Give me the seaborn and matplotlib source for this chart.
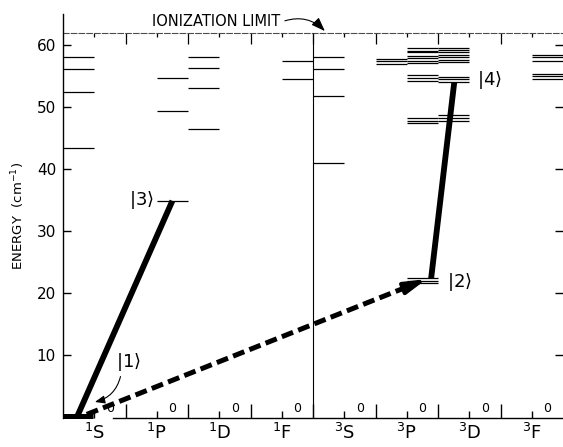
import matplotlib
matplotlib.use("Agg")
import matplotlib.pyplot as plt
import seaborn as sns
import numpy as np
import pandas as pd

# ---------------- data (energies in 10^3 cm^-1) ----------------
term_labels = ['$^{1}$S', '$^{1}$P', '$^{1}$D', '$^{1}$F',
               '$^{3}$S', '$^{3}$P', '$^{3}$D', '$^{3}$F']
yticks = [10, 20, 30, 40, 50, 60]
ionization_limit = 62.0

lv_1S = [43.4, 52.5, 56.1, 58.0]
lv_1P = [49.4, 54.7]
lv_1D = [46.4, 53.0, 56.3, 58.0]
lv_1F = [54.6, 57.4]
lv_3S = [41.0, 51.8, 56.1, 58.1]
lv_3P_a = [57.0, 57.4, 57.8]
lv_3P_b = [47.4, 47.8, 48.2, 54.2, 54.7, 55.2,
           57.1, 57.5, 57.9, 58.3, 58.8, 59.1, 59.5]
lv_3D = [47.8, 48.3, 48.8, 54.0, 54.5, 54.9,
         57.2, 57.6, 58.0, 58.4, 58.8, 59.2, 59.6]
lv_3F = [54.5, 55.0, 55.4, 57.5, 58.0, 58.4]

ground_E = 0.0            # |1>, 1S
state3_E = 34.9           # |3>, 1P
state2_E = [21.7, 22.0, 22.4]  # |2>, 3P multiplet
state4_E = 54.0           # |4>, 3D

# transitions (column units, energy)
tr_13_x = [0.22, 1.75]
tr_13_E = [0.0, 34.9]
tr_24_x = [5.89, 6.26]
tr_24_E = [22.4, 54.0]
tr_12_x = [0.38, 5.82]
tr_12_E = [0.5, 22.3]

# ---------------- style ----------------
sns.set_theme(style="white", rc={
    "axes.edgecolor": "black", "text.color": "black",
    "xtick.color": "black", "ytick.color": "black",
    "axes.labelcolor": "black"})
plt.rcParams['font.family'] = ['DejaVu Sans']
plt.rcParams['mathtext.fontset'] = 'dejavusans'

fig = plt.figure(figsize=(5.63, 4.47), dpi=100)
fig.patch.set_facecolor('white')
ax = fig.add_axes([63 / 563, 29.5 / 447, 500 / 563, 403.5 / 447])
ax.set_facecolor('white')
ax.set_xlim(0, 8)
ax.set_ylim(0, 65)

# ---------------- levels ----------------
groups = [(0, 0, lv_1S), (1, 1, lv_1P), (2, 0, lv_1D), (3, 1, lv_1F),
          (4, 0, lv_3S), (5, 0, lv_3P_a), (5, 1, lv_3P_b), (6, 0, lv_3D),
          (7, 1, lv_3F), (1, 1, [state3_E]), (5, 1, state2_E)]
rows = []
for col, half, energies in groups:
    for e in energies:
        rows.append({"x0": col + 0.5 * half, "x1": col + 0.5 * half + 0.5, "E": e})
lev = pd.DataFrame(rows)
ax.hlines(lev["E"], lev["x0"], lev["x1"], colors='black', lw=0.9, clip_on=False)

# ground state (thick)
ax.hlines(ground_E + 0.3, 0, 0.48, colors='black', lw=3.6, clip_on=False)

# separator singlet / triplet
ax.vlines(4, 0, ionization_limit, colors='black', lw=0.8)

# ---------------- transitions ----------------
tr = pd.DataFrame({"x": tr_13_x + tr_24_x, "E": tr_13_E + tr_24_E,
                   "t": ["13", "13", "24", "24"]})
sns.lineplot(data=tr, x="x", y="E", units="t", estimator=None, sort=False,
             color='black', lw=4.2, ax=ax, legend=False)
for l in ax.lines:
    l.set_solid_capstyle('butt')
ax.set_xlabel('')

# dashed transition |1> -> |2> with solid arrow head
f_head = 0.93
hx = tr_12_x[0] + f_head * (tr_12_x[1] - tr_12_x[0])
hy = tr_12_E[0] + f_head * (tr_12_E[1] - tr_12_E[0])
ax.plot([tr_12_x[0], hx], [tr_12_E[0], hy], color='black', lw=3.6,
        dashes=(2.4, 1.1), dash_capstyle='butt')
ax.annotate('', xy=(tr_12_x[1], tr_12_E[1]), xytext=(hx, hy),
            arrowprops=dict(arrowstyle='-|>,head_length=0.8,head_width=0.22',
                            mutation_scale=16, lw=3.0, color='black',
                            shrinkA=0, shrinkB=0))

# ---------------- state labels ----------------
kfs = 13
ax.text(1.45, 35.0, r'$|3\rangle$', fontsize=kfs, ha='right', va='center')
ax.text(6.35, 21.8, r'$|2\rangle$', fontsize=kfs, ha='center', va='center')
ax.text(6.82, 54.4, r'$|4\rangle$', fontsize=kfs, ha='center', va='center')
ax.text(1.04, 8.9, r'$|1\rangle$', fontsize=kfs, ha='center', va='center')
ax.annotate('', xy=(0.51, 2.5), xytext=(0.92, 6.6),
            arrowprops=dict(arrowstyle='-|>,head_length=0.5,head_width=0.2',
                            mutation_scale=12, lw=0.8, color='black',
                            connectionstyle='arc3,rad=-0.3', shrinkA=0, shrinkB=0))

ax.text(3.47, 63.75, 'IONIZATION LIMIT', fontsize=10.5, ha='right', va='center')
ax.annotate('', xy=(4.19, 62.25), xytext=(3.55, 63.9),
            arrowprops=dict(arrowstyle='-|>,head_length=0.6,head_width=0.22',
                            mutation_scale=14, lw=0.8, color='black',
                            connectionstyle='arc3,rad=-0.3', shrinkA=0, shrinkB=0))

# "0" markers above the baseline
for k in range(len(term_labels)):
    ax.text(k + 0.75, 1.5, '0', fontsize=9, ha='center', va='center')

# ---------------- axes decoration ----------------
for s in ['right', 'top']:
    ax.spines[s].set_visible(False)
ax.spines['bottom'].set_bounds(0.8, 8)
ax.spines['left'].set_linewidth(1.0)
ax.spines['bottom'].set_linewidth(1.0)

ax.set_xticks(np.arange(1, 8))
ax.set_xticklabels([])
ax.set_xticks(np.arange(len(term_labels)) + 0.5, minor=True)
ax.set_xticklabels(term_labels, minor=True)
ax.tick_params(axis='x', which='major', direction='in', length=10, width=1,
               bottom=True, top=False)
ax.tick_params(axis='x', which='minor', direction='in', length=5, width=1,
               bottom=True, top=False, labelsize=13, pad=4)

ax.set_yticks(yticks)
ax.tick_params(axis='y', which='major', direction='in', length=6, width=1,
               left=True, right=True, labelsize=11, pad=5)
ax.set_ylabel('ENERGY  (cm$^{-1}$)', fontsize=9.5, labelpad=7)

sec = ax.secondary_xaxis(ionization_limit / 65)
sec.set_xticks(np.arange(1, 8))
sec.set_xticks(np.arange(len(term_labels)) + 0.5, minor=True)
sec.tick_params(which='major', direction='in', length=8, width=0.9,
                top=True, bottom=False, labeltop=False, labelbottom=False)
sec.tick_params(which='minor', direction='in', length=3, width=0.9,
                top=True, bottom=False, labeltop=False, labelbottom=False)
for s in sec.spines.values():
    s.set_linestyle((0, (5, 2)))
    s.set_linewidth(0.8)
    s.set_color('0.3')

fig.savefig('out.png', dpi=100, facecolor='white')
